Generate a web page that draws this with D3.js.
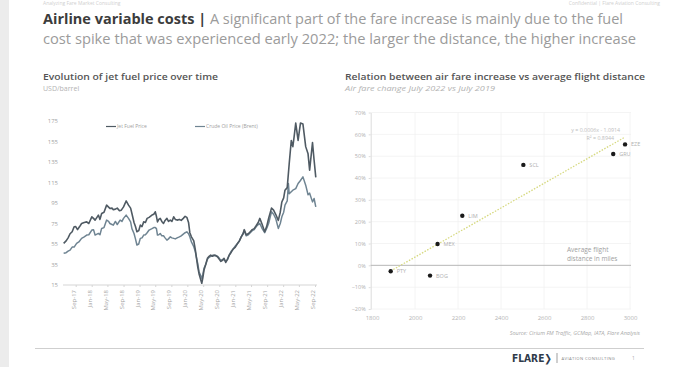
<!DOCTYPE html>
<html><head><meta charset="utf-8">
<script src="https://cdn.jsdelivr.net/npm/d3@7"></script>
<style>
html,body{margin:0;padding:0;background:#fff;}
svg{display:block;font-family:"Open Sans","Noto Sans",sans-serif;}
</style></head>
<body>
<svg id="c" width="679" height="367"></svg>
<script>
// ---------- DATA ----------
const jetFuel = [
["2017-06-01",55.6],["2017-06-20",58],["2017-07-05",61],["2017-07-20",65],["2017-08-05",67],["2017-08-20",71.8],
["2017-09-01",72],["2017-09-15",69],["2017-10-01",72],["2017-10-16",75],["2017-11-05",76],["2017-11-24",76.6],
["2017-12-10",75],["2018-01-02",81.5],["2018-01-15",80],["2018-01-27",78.3],["2018-02-10",81],["2018-02-21",83.2],
["2018-03-05",79],["2018-03-18",84.8],["2018-04-05",86],["2018-04-25",92.9],["2018-05-10",91],["2018-05-20",89.7],
["2018-06-05",90],["2018-06-15",88.5],["2018-07-01",89],["2018-07-15",90],["2018-08-01",87.5],["2018-08-15",88],
["2018-09-01",91.2],["2018-09-21",97],["2018-10-09",92.9],["2018-10-25",90],["2018-11-04",84.8],["2018-11-20",76],
["2018-12-01",72],["2018-12-12",66.9],["2018-12-26",68],["2019-01-07",73.4],["2019-01-20",72],["2019-02-02",76.6],
["2019-02-15",76],["2019-02-28",80],["2019-03-15",81],["2019-04-06",83.2],["2019-04-20",84],["2019-05-01",86.4],
["2019-05-10",82],["2019-05-18",76.6],["2019-05-28",79],["2019-06-08",80],["2019-06-20",77],["2019-07-03",75],
["2019-07-15",78],["2019-07-29",80],["2019-08-10",77],["2019-08-24",78.3],["2019-09-05",77],["2019-09-19",81.5],
["2019-10-01",79],["2019-10-15",78.3],["2019-11-01",79],["2019-11-15",78],["2019-12-01",80],["2019-12-15",82],
["2019-12-28",81],["2020-01-10",76],["2020-01-20",66],["2020-02-01",62],["2020-02-19",58],["2020-03-01",50],
["2020-03-10",42],["2020-03-20",33],["2020-03-30",26],["2020-04-10",21],["2020-04-20",16.7],["2020-04-28",22],
["2020-05-07",29.6],["2020-05-20",35],["2020-06-02",41],["2020-06-15",43],["2020-06-27",44.2],["2020-07-10",43],
["2020-07-22",44.2],["2020-08-05",43.5],["2020-08-18",42.6],["2020-09-01",40],["2020-09-13",38],["2020-09-25",39],
["2020-10-07",41],["2020-10-20",37],["2020-11-02",40],["2020-11-15",44],["2020-12-01",47],["2020-12-15",50],
["2021-01-01",52],["2021-01-15",55],["2021-02-01",58],["2021-02-15",62],["2021-03-01",65],["2021-03-10",69],
["2021-03-25",64],["2021-04-10",65],["2021-04-25",67],["2021-05-10",69],["2021-05-25",70],["2021-06-10",73],
["2021-06-25",76],["2021-07-07",80],["2021-07-25",74],["2021-08-13",67],["2021-08-28",72],["2021-09-12",80],
["2021-10-04",90],["2021-10-20",88],["2021-11-05",84],["2021-11-25",78],["2021-12-10",86],["2021-12-22",96],
["2022-01-05",100],["2022-01-15",107.5],["2022-02-01",110],["2022-02-16",133],["2022-03-04",156],["2022-03-16",150],
["2022-03-26",160],["2022-04-07",173],["2022-04-25",156],["2022-05-13",173],["2022-06-01",172],["2022-06-22",150],
["2022-07-10",143],["2022-07-22",127],["2022-08-13",154],["2022-08-25",137],["2022-09-07",120]
];
const brent = [
["2017-06-01",46],["2017-06-20",46.5],["2017-07-05",48],["2017-07-20",49],["2017-08-05",52],["2017-08-20",52],
["2017-09-08",55.6],["2017-09-25",57],["2017-10-16",60.5],["2017-11-05",62],["2017-11-24",63.7],["2017-12-10",64],
["2018-01-02",68.6],["2018-01-15",69],["2018-01-27",63.7],["2018-02-21",65.3],["2018-03-05",64],["2018-03-18",70.2],
["2018-04-05",71],["2018-04-25",78.3],["2018-05-10",77],["2018-05-20",75],["2018-06-05",74],["2018-06-15",73.4],
["2018-07-01",77],["2018-07-15",74],["2018-08-06",78.3],["2018-08-20",77],["2018-09-01",80],["2018-09-21",83.2],
["2018-10-09",80],["2018-10-25",76.6],["2018-11-04",70],["2018-11-20",65.3],["2018-12-01",60],["2018-12-12",54],
["2018-12-26",55],["2019-01-07",60.5],["2019-01-20",61],["2019-02-02",63.7],["2019-02-15",64],["2019-02-28",66],
["2019-03-15",68.6],["2019-04-06",70],["2019-04-20",71],["2019-05-01",71.2],["2019-05-10",70],["2019-05-18",63.7],
["2019-05-28",64],["2019-06-08",65.3],["2019-06-20",63],["2019-07-03",63],["2019-07-15",61],["2019-07-29",58.8],
["2019-08-10",60],["2019-08-24",62],["2019-09-05",61],["2019-09-19",60.5],["2019-10-01",60],["2019-10-15",61],
["2019-11-01",62],["2019-11-15",63],["2019-12-01",64.7],["2019-12-15",66],["2019-12-28",66.9],["2020-01-10",65],
["2020-01-20",62],["2020-02-01",57],["2020-02-19",52.3],["2020-03-01",48],["2020-03-10",42],["2020-03-20",36.1],
["2020-03-30",28],["2020-04-10",24.7],["2020-04-20",21.5],["2020-04-28",25],["2020-05-07",31.3],["2020-05-20",35],
["2020-06-02",40],["2020-06-15",42],["2020-06-27",43],["2020-07-10",44],["2020-07-22",43.5],["2020-08-05",44],
["2020-08-18",43],["2020-09-01",41],["2020-09-13",39],["2020-09-25",40],["2020-10-07",40],["2020-10-20",38],
["2020-11-02",40],["2020-11-15",44],["2020-12-01",48],["2020-12-15",50],["2021-01-01",53],["2021-01-15",55],
["2021-02-01",58],["2021-02-15",62],["2021-03-01",65],["2021-03-10",68],["2021-03-25",63],["2021-04-10",64],
["2021-04-25",66],["2021-05-10",68],["2021-05-25",69],["2021-06-10",72],["2021-06-25",74],["2021-07-07",75],
["2021-07-25",70],["2021-08-13",66],["2021-08-28",70.2],["2021-09-12",75],["2021-10-04",86.4],["2021-10-20",84],
["2021-11-05",80],["2021-11-25",70.2],["2021-12-10",75],["2021-12-22",81.5],["2022-01-05",86],["2022-01-15",92.9],
["2022-02-01",97],["2022-02-10",114],["2022-02-16",104],["2022-03-04",106],["2022-03-16",107.5],["2022-04-07",109],
["2022-04-25",114],["2022-05-13",117],["2022-06-01",120.5],["2022-06-22",112.4],["2022-07-10",103],["2022-07-22",104.6],
["2022-08-13",96.1],["2022-08-25",99.4],["2022-09-07",91.2]
];
const seriesNames = ["Jet Fuel Price","Crude Oil Price (Brent)"];
const priceTicks = [15,35,55,75,95,115,135,155,175];
const dateTicks = ["2017-09-01","2018-01-01","2018-05-01","2018-09-01","2019-01-01","2019-05-01","2019-09-01","2020-01-01",
  "2020-05-01","2020-09-01","2021-01-01","2021-05-01","2021-09-01","2022-01-01","2022-05-01","2022-09-01"];

const airports = ["PTY","BOG","MEX","LIM","SCL","GRU","EZE"];
const distances = [1887,2070,2105,2220,2504,2922,2977];
const fareChange = [-0.027,-0.047,0.098,0.227,0.46,0.51,0.554];
const pctTicks = [-0.2,-0.1,0,0.1,0.2,0.3,0.4,0.5,0.6,0.7];
const distTicks = [1800,2000,2200,2400,2600,2800,3000];
const trendLabel = ["y = 0.0006x - 1.0914","R² = 0.8944"];

// ---------- DRAW ----------
const svg = d3.select("#c");
svg.append("rect").attr("width",679).attr("height",367).attr("fill","#fff");
svg.append("rect").attr("x",0).attr("y",0).attr("width",9).attr("height",367).attr("fill","#ececec");

// header tiny texts
svg.append("text").attr("x",43).attr("y",5).attr("font-size",5).attr("fill","#d0d0d0").text("Analyzing Fare Market Consulting");
svg.append("text").attr("x",660).attr("y",5).attr("text-anchor","end").attr("font-size",5).attr("fill","#d0d0d0").text("Confidential | Flare Aviation Consulting");

// title
const t1 = svg.append("text").attr("x",43).attr("y",24).attr("font-size",15)
  .attr("textLength",580).attr("lengthAdjust","spacingAndGlyphs");
t1.append("tspan").attr("font-weight",700).attr("fill","#3c3c3c").text("Airline variable costs |");
t1.append("tspan").attr("fill","#9b9b9b").text(" A significant part of the fare increase is mainly due to the fuel");
svg.append("text").attr("x",43).attr("y",44).attr("font-size",15).attr("fill","#9b9b9b")
  .attr("textLength",593).attr("lengthAdjust","spacingAndGlyphs")
  .text("cost spike that was experienced early 2022; the larger the distance, the higher increase");

// chart titles
svg.append("text").attr("x",43).attr("y",80).attr("font-size",9.5).attr("font-weight",600).attr("fill","#555")
  .attr("textLength",175).attr("lengthAdjust","spacingAndGlyphs").text("Evolution of jet fuel price over time");
svg.append("text").attr("x",43).attr("y",91).attr("font-size",7).attr("fill","#b3b3b3").text("USD/barrel");
svg.append("text").attr("x",345).attr("y",80).attr("font-size",9.5).attr("font-weight",600).attr("fill","#555")
  .attr("textLength",300).attr("lengthAdjust","spacingAndGlyphs").text("Relation between air fare increase vs average flight distance");
svg.append("text").attr("x",345).attr("y",91).attr("font-size",7).attr("font-style","italic").attr("fill","#b3b3b3")
  .attr("textLength",150).attr("lengthAdjust","spacingAndGlyphs").text("Air fare change July 2022 vs July 2019");

// ----- left line chart -----
const parse = d3.timeParse("%Y-%m-%d");
const x = d3.scaleTime().domain([parse("2017-09-01"), parse("2022-09-01")]).range([75.7, 315]);
const y = d3.scaleLinear().domain([15,175]).range([285,121]);
const L = svg.append("g");

L.append("g").attr("transform","translate(63,0)")
  .call(d3.axisLeft(y).tickValues(priceTicks).tickSize(0).tickPadding(5))
  .call(g=>g.select(".domain").remove())
  .call(g=>g.selectAll("text").attr("font-size",6).attr("fill","#a5a5a5").attr("font-family","'Open Sans',sans-serif"));

const fmt = d3.timeFormat("%b-%y");
const xa = L.append("g").attr("transform","translate(0,285)")
  .call(d3.axisBottom(x).tickValues(dateTicks.map(parse)).tickFormat(fmt).tickSize(2).tickSizeOuter(0));
xa.select(".domain").attr("d","M63,0H317").attr("stroke","#d5d5d5");
xa.selectAll(".tick line").attr("stroke","#d5d5d5");
xa.selectAll("text").attr("font-size",6).attr("fill","#a5a5a5").attr("font-family","'Open Sans',sans-serif")
  .attr("transform","rotate(-90)").attr("text-anchor","end").attr("x",-5).attr("y",-2.5).attr("dy","0.35em");

const line = d3.line().x(d=>x(parse(d[0]))).y(d=>y(d[1]));
L.append("path").datum(brent).attr("d",line).attr("fill","none").attr("stroke","#6f8492").attr("stroke-width",1.5).attr("stroke-linejoin","round");
L.append("path").datum(jetFuel).attr("d",line).attr("fill","none").attr("stroke","#4f5a63").attr("stroke-width",1.6).attr("stroke-linejoin","round");

// legend
const lg = [[106,seriesNames[0],"#4f5a63"],[195,seriesNames[1],"#6f8492"]];
lg.forEach(([lx,name,col])=>{
  L.append("line").attr("x1",lx).attr("x2",lx+10).attr("y1",126.5).attr("y2",126.5).attr("stroke",col).attr("stroke-width",1.2);
  L.append("text").attr("x",lx+11).attr("y",128.3).attr("font-size",5).attr("fill","#a0a0a0").text(name);
});

// ----- right scatter -----
const sx = d3.scaleLinear().domain([1800,3000]).range([372,630]);
const sy = d3.scaleLinear().domain([-0.2,0.7]).range([309,112.5]);
const R = svg.append("g");

R.append("g").selectAll("line.h").data(pctTicks).join("line")
  .attr("x1",370.7).attr("x2",631).attr("y1",d=>sy(d)).attr("y2",d=>sy(d)).attr("stroke","#f1f1f1").attr("stroke-width",0.8);
R.append("g").selectAll("line.v").data(distTicks.slice(1)).join("line")
  .attr("x1",d=>sx(d)).attr("x2",d=>sx(d)).attr("y1",112.5).attr("y2",309).attr("stroke","#f1f1f1").attr("stroke-width",0.8);

R.append("g").attr("transform","translate(370.7,0)")
  .call(d3.axisLeft(sy).tickValues(pctTicks).tickFormat(d3.format(".0%")).tickSize(2).tickSizeOuter(0))
  .call(g=>g.select(".domain").attr("stroke","#dcdcdc"))
  .call(g=>g.selectAll(".tick line").attr("stroke","#dcdcdc"))
  .call(g=>g.selectAll("text").attr("font-size",5.5).attr("fill","#b0b0b0").attr("font-family","'Open Sans',sans-serif"));

R.append("g").attr("transform","translate(0,309)")
  .call(d3.axisBottom(sx).tickValues(distTicks).tickFormat(d3.format("d")).tickSize(0).tickPadding(7))
  .call(g=>g.select(".domain").remove())
  .call(g=>g.selectAll("text").attr("font-size",6).attr("fill","#b5b5b5").attr("font-family","'Open Sans',sans-serif"));

// zero line
R.append("line").attr("x1",370.7).attr("x2",631).attr("y1",sy(0)).attr("y2",sy(0)).attr("stroke","#b8b8b8").attr("stroke-width",1);

// trendline (least squares from the points)
const mx = d3.mean(distances), my = d3.mean(fareChange);
const slope = d3.sum(distances,(d,i)=>(d-mx)*(fareChange[i]-my))/d3.sum(distances,d=>(d-mx)*(d-mx));
const icpt = my - slope*mx;
const x0 = d3.min(distances), x1 = d3.max(distances);
R.append("line").attr("x1",sx(x0)).attr("x2",sx(x1)).attr("y1",sy(icpt+slope*x0)).attr("y2",sy(icpt+slope*x1))
  .attr("stroke","#d6d97f").attr("stroke-width",1.3).attr("stroke-dasharray","1.5,1.5");

const pts = airports.map((a,i)=>({a, d:distances[i], v:fareChange[i]}));
R.append("g").selectAll("circle").data(pts).join("circle")
  .attr("cx",d=>sx(d.d)).attr("cy",d=>sy(d.v)).attr("r",2.2).attr("fill","#1a1a1a");
R.append("g").selectAll("text").data(pts).join("text")
  .attr("x",d=>sx(d.d)+6).attr("y",d=>sy(d.v)+2).attr("font-size",5.5).attr("fill","#b0b0b0").text(d=>d.a);

R.append("text").attr("x",620).attr("y",132).attr("text-anchor","end").attr("font-size",5.3).attr("fill","#bdbdbd").text(trendLabel[0]);
R.append("text").attr("x",614).attr("y",140).attr("text-anchor","end").attr("font-size",5.3).attr("fill","#bdbdbd").text(trendLabel[1]);

R.append("text").attr("x",567).attr("y",252).attr("font-size",6.5).attr("fill","#a0a0a0").text("Average flight");
R.append("text").attr("x",567).attr("y",260.5).attr("font-size",6.5).attr("fill","#a0a0a0").text("distance in miles");

R.append("text").attr("x",640).attr("y",335).attr("text-anchor","end").attr("font-size",5.5).attr("font-style","italic")
  .attr("fill","#aaa").text("Source: Cirium FM Traffic, GCMap, IATA, Flare Analysis");

// footer
svg.append("line").attr("x1",35).attr("x2",644).attr("y1",348.5).attr("y2",348.5).attr("stroke","#cfcfcf").attr("stroke-width",1);
svg.append("text").attr("x",512).attr("y",362).attr("font-size",10.5).attr("font-weight",800).attr("fill","#2f3b4a")
  .attr("font-family","'DejaVu Sans',sans-serif").attr("textLength",40).attr("lengthAdjust","spacingAndGlyphs").text("FLARE❯");
svg.append("line").attr("x1",557).attr("x2",557).attr("y1",353).attr("y2",363).attr("stroke","#777").attr("stroke-width",0.7);
svg.append("text").attr("x",561.5).attr("y",360).attr("font-size",4.2).attr("fill","#888").attr("letter-spacing",0.4).text("AVIATION CONSULTING");
svg.append("text").attr("x",632).attr("y",360).attr("font-size",5).attr("fill","#aaa").text("1");
</script>
</body></html>
